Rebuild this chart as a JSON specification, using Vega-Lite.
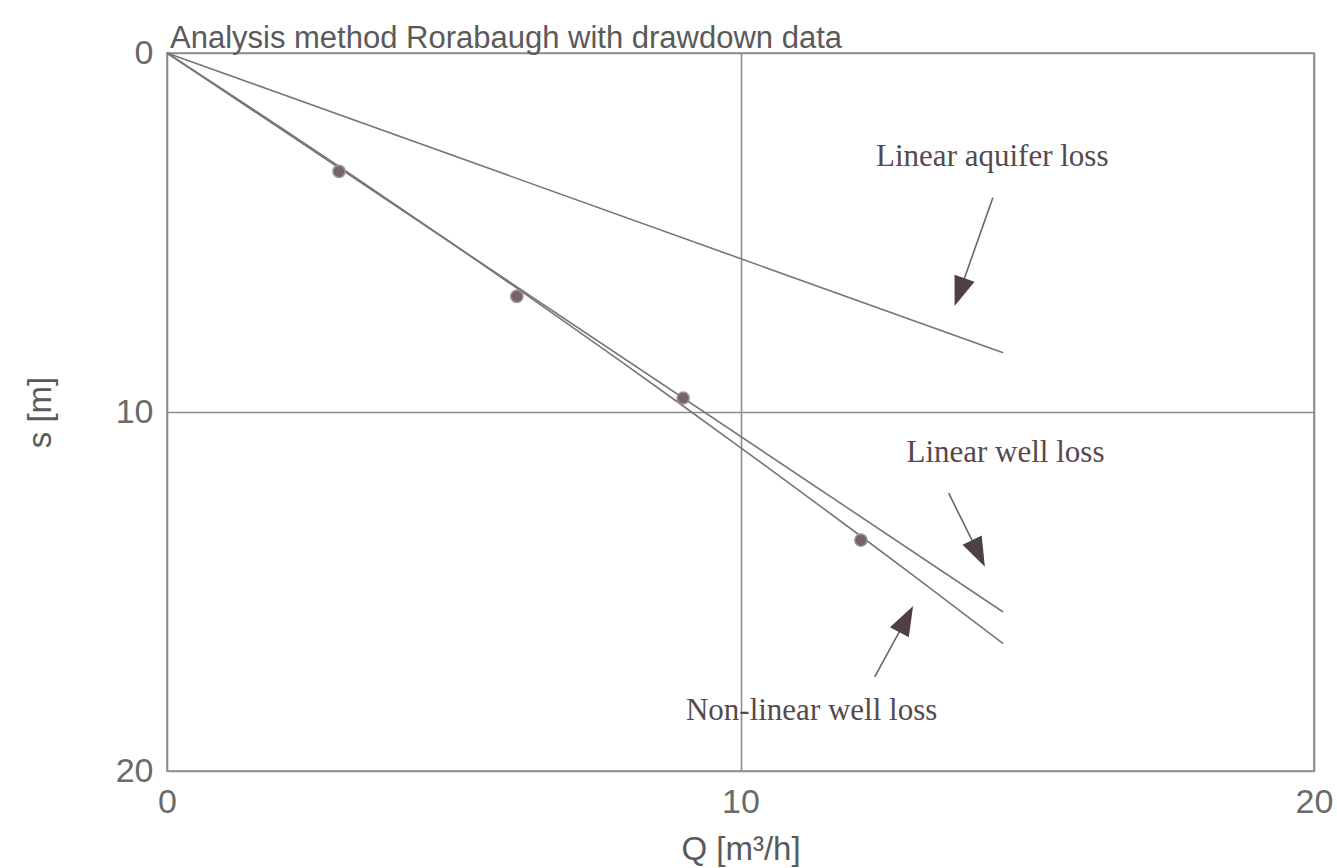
{
  "$schema": "https://vega.github.io/schema/vega-lite/v6.json",
  "width": 1147,
  "height": 718,
  "autosize": {"type": "none"},
  "padding": {"left": 167, "top": 53, "right": 23, "bottom": 97},
  "background": "white",
  "title": {
    "text": "Analysis method Rorabaugh with drawdown data",
    "anchor": "start",
    "frame": "group",
    "dx": 3,
    "offset": -19,
    "font": "Liberation Sans",
    "fontSize": 31,
    "fontWeight": "normal",
    "color": "#5a5a5a"
  },
  "config": {
    "view": {"stroke": "#8c8c8c", "strokeWidth": 1.6},
    "axis": {
      "domain": false,
      "ticks": false,
      "grid": true,
      "gridColor": "#8c8c8c",
      "gridWidth": 1.6,
      "gridOpacity": 1,
      "labelFont": "Liberation Sans",
      "labelFontSize": 34,
      "labelColor": "#6a6a6a",
      "titleFont": "Liberation Sans",
      "titleFontSize": 33,
      "titleFontWeight": "normal",
      "titleColor": "#5a5a5a",
      "labelFlush": false,
      "labelOverlap": false
    }
  },
  "datasets": {
    "measured": [
      {"Q": 3.0, "s": 3.3},
      {"Q": 6.1, "s": 6.78},
      {"Q": 9.0, "s": 9.61},
      {"Q": 12.1, "s": 13.57}
    ],
    "curves": [
      {"curve": "Linear aquifer loss", "Q": 0, "s": 0},
      {"curve": "Linear aquifer loss", "Q": 14.58, "s": 8.35},
      {"curve": "Linear well loss", "Q": 0, "s": 0},
      {"curve": "Linear well loss", "Q": 14.58, "s": 15.57},
      {"curve": "Non-linear well loss", "Q": 0, "s": 0},
      {"curve": "Non-linear well loss", "Q": 1, "s": 1.041},
      {"curve": "Non-linear well loss", "Q": 2, "s": 2.095},
      {"curve": "Non-linear well loss", "Q": 3, "s": 3.162},
      {"curve": "Non-linear well loss", "Q": 4, "s": 4.242},
      {"curve": "Non-linear well loss", "Q": 5, "s": 5.334},
      {"curve": "Non-linear well loss", "Q": 6, "s": 6.44},
      {"curve": "Non-linear well loss", "Q": 7, "s": 7.558},
      {"curve": "Non-linear well loss", "Q": 8, "s": 8.689},
      {"curve": "Non-linear well loss", "Q": 9, "s": 9.833},
      {"curve": "Non-linear well loss", "Q": 10, "s": 10.99},
      {"curve": "Non-linear well loss", "Q": 11, "s": 12.16},
      {"curve": "Non-linear well loss", "Q": 12, "s": 13.343},
      {"curve": "Non-linear well loss", "Q": 13, "s": 14.538},
      {"curve": "Non-linear well loss", "Q": 14, "s": 15.747},
      {"curve": "Non-linear well loss", "Q": 14.58, "s": 16.453}
    ],
    "labels": [
      {"curve": "Linear aquifer loss", "Q": 14.39, "s": 3.16},
      {"curve": "Linear well loss", "Q": 14.62, "s": 11.39},
      {"curve": "Non-linear well loss", "Q": 11.24, "s": 18.59}
    ],
    "arrows": [
      {"curve": "Linear aquifer loss", "Q0": 14.4, "s0": 4.03, "Q1": 13.82, "s1": 6.66},
      {"curve": "Linear well loss", "Q0": 13.63, "s0": 12.26, "Q1": 14.15, "s1": 13.94},
      {"curve": "Non-linear well loss", "Q0": 12.34, "s0": 17.38, "Q1": 12.89, "s1": 15.77}
    ]
  },
  "encoding": {
    "x": {
      "field": "Q",
      "type": "quantitative",
      "scale": {"domain": [0, 20], "nice": false, "zero": false},
      "axis": {"title": "Q [m³/h]", "values": [0, 10, 20], "labelPadding": 14, "titlePadding": 14}
    },
    "y": {
      "field": "s",
      "type": "quantitative",
      "scale": {"domain": [0, 20], "nice": false, "reverse": true},
      "axis": {"title": "s [m]", "values": [0, 10, 20], "labelPadding": 14, "titlePadding": 58}
    }
  },
  "layer": [
    {
      "data": {"name": "curves"},
      "mark": {"type": "line", "color": "#767676", "strokeWidth": 1.6},
      "encoding": {"detail": {"field": "curve"}}
    },
    {
      "data": {"name": "measured"},
      "mark": {"type": "point", "shape": "circle", "filled": true, "size": 150, "color": "#75646c", "opacity": 1, "stroke": "#a0939a", "strokeWidth": 1.5}
    },
    {
      "data": {"name": "arrows"},
      "mark": {"type": "rule", "color": "#6e6468", "strokeWidth": 1.6},
      "encoding": {
        "x": {"field": "Q0", "type": "quantitative"},
        "y": {"field": "s0", "type": "quantitative"},
        "x2": {"field": "Q1"},
        "y2": {"field": "s1"}
      }
    },
    {
      "data": {"name": "arrows"},
      "transform": [{"filter": "datum.curve === 'Linear aquifer loss'"}],
      "mark": {"type": "point", "shape": "M-0.72,-1L0.72,-1L0,1Z", "filled": true, "size": 870, "angle": 19.6, "color": "#4f4044", "opacity": 1},
      "encoding": {"x": {"field": "Q1", "type": "quantitative"}, "y": {"field": "s1", "type": "quantitative"}}
    },
    {
      "data": {"name": "arrows"},
      "transform": [{"filter": "datum.curve === 'Linear well loss'"}],
      "mark": {"type": "point", "shape": "M-0.72,-1L0.72,-1L0,1Z", "filled": true, "size": 870, "angle": -25.7, "color": "#4f4044", "opacity": 1},
      "encoding": {"x": {"field": "Q1", "type": "quantitative"}, "y": {"field": "s1", "type": "quantitative"}}
    },
    {
      "data": {"name": "arrows"},
      "transform": [{"filter": "datum.curve === 'Non-linear well loss'"}],
      "mark": {"type": "point", "shape": "M-0.72,-1L0.72,-1L0,1Z", "filled": true, "size": 870, "angle": 207.7, "color": "#4f4044", "opacity": 1},
      "encoding": {"x": {"field": "Q1", "type": "quantitative"}, "y": {"field": "s1", "type": "quantitative"}}
    },
    {
      "data": {"name": "labels"},
      "mark": {"type": "text", "font": "Liberation Serif", "fontSize": 31, "color": "#55494e", "align": "center", "baseline": "alphabetic"},
      "encoding": {"text": {"field": "curve"}}
    }
  ]
}
